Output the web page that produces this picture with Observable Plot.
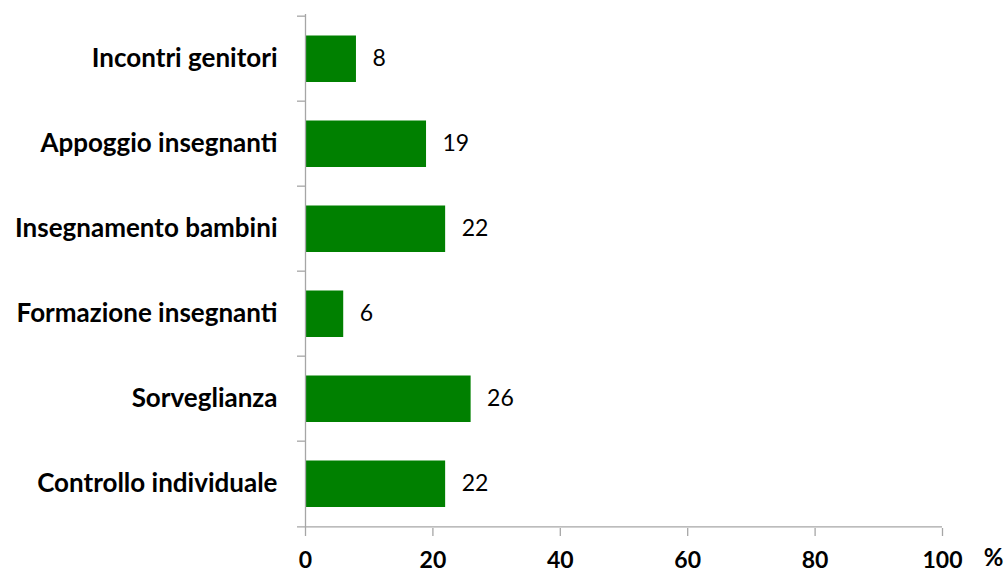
<!DOCTYPE html>
<html>
<head>
<meta charset="utf-8">
<script src="https://cdn.jsdelivr.net/npm/d3@7"></script>
<script src="https://cdn.jsdelivr.net/npm/@observablehq/plot@0.6"></script>
<style>
  html, body { margin: 0; padding: 0; background: #fff; }
  #chart svg { display: block; }
</style>
</head>
<body>
<div id="chart"></div>
<script>
const categories = ["Incontri genitori", "Appoggio insegnanti", "Insegnamento bambini", "Formazione insegnanti", "Sorveglianza", "Controllo individuale"];
const values = [8, 19, 22, 6, 26, 22];
const xTicks = [0, 20, 40, 60, 80, 100];
const unitLabel = "%";

const data = categories.map((c, i) => ({cat: c, value: values[i]}));

const W = 1008, H = 573;
const mTop = 14, mBottom = 45, mLeft = 305, mRight = 66;
const step = (H - mTop - mBottom) / categories.length;
const axisColor = "#a6a6a6";
const font = "Lato, 'Open Sans', sans-serif";

const chart = Plot.plot({
  width: W,
  height: H,
  marginTop: mTop,
  marginBottom: mBottom,
  marginLeft: mLeft,
  marginRight: mRight,
  style: {fontFamily: font, background: "#fff", color: "#000"},
  x: {domain: [0, 100], axis: null},
  y: {domain: categories, padding: 0, axis: null},
  marks: [
    Plot.barX(data, {x: "value", y: "cat", fill: "#008000", insetTop: 19.5, insetBottom: 19}),
    Plot.text(data, {x: "value", y: "cat", text: d => String(d.value), textAnchor: "start", dx: 16, fontSize: 23, fill: "#000"}),
    // y axis line
    Plot.ruleX([0], {stroke: axisColor, strokeWidth: 1.3}),
    // boundary ticks (top of each band)
    Plot.ruleY(categories, {y: d => d, dy: -step / 2, x2: () => 0, insetLeft: -8, stroke: axisColor, strokeWidth: 1.3}),
    // bottom axis line (bottom of last band)
    Plot.ruleY(categories.slice(-1), {y: d => d, dy: step / 2, insetLeft: -8, stroke: axisColor, strokeWidth: 1.3}),
    Plot.axisY({tickSize: 0, tickPadding: 28, fontSize: 26, fontWeight: "bold", tickFormat: d => d, label: null}),
    Plot.axisX({ticks: xTicks, tickSize: 8, tickPadding: 15, fontSize: 23, fontWeight: "bold", stroke: axisColor, strokeWidth: 1.3, tickFormat: d => String(d), label: null}),
    Plot.text([unitLabel], {x: () => 100, frameAnchor: "bottom", text: d => d, dx: 51, dy: 37, fontSize: 24, fontWeight: "bold", fill: "#000"})
  ]
});

document.getElementById("chart").appendChild(chart);
</script>
</body>
</html>
